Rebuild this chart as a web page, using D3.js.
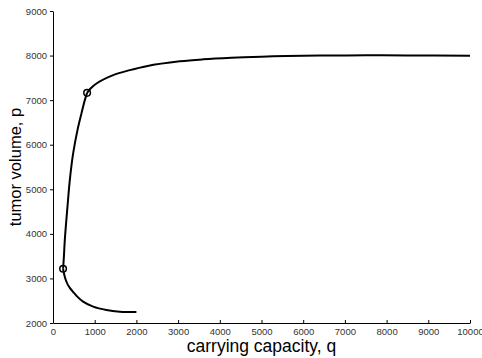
<!DOCTYPE html>
<html>
<head>
<meta charset="utf-8">
<script src="https://cdn.jsdelivr.net/npm/d3@7"></script>
<style>
  body { margin: 0; background: #fff; }
  text { font-family: "Liberation Sans", Arial, sans-serif; }
</style>
</head>
<body>
<svg id="chart" width="482" height="358"></svg>
<script>
// curve pieces: [q, p]
const lowerBranch = [
  [2000, 2245], [1602, 2255], [1283, 2291], [963, 2366], [723, 2478],
  [563, 2610], [480, 2700], [403, 2790], [360, 2850], [307, 2965],
  [270, 3080], [242, 3217]
];
const middleBranch = [
  [242, 3217], [262, 3500], [283, 3861], [347, 4608], [403, 5206],
  [483, 5805], [587, 6327], [683, 6703], [763, 7000], [818, 7164]
];
const upperBranch = [
  [818, 7164], [900, 7260], [1043, 7374], [1443, 7561], [1842, 7673],
  [2242, 7762], [3041, 7870], [3600, 7915], [4280, 7950], [5000, 7975],
  [5600, 7990], [6400, 8000], [7500, 8005], [8500, 8003], [10000, 7995]
];
const markedPoints = [[242, 3217], [818, 7164]];
const xTicks = [0, 1000, 2000, 3000, 4000, 5000, 6000, 7000, 8000, 9000, 10000];
const yTicks = [2000, 3000, 4000, 5000, 6000, 7000, 8000, 9000];

const svg = d3.select("#chart"),
  margin = { top: 11, right: 12, bottom: 35, left: 53 },
  width = +svg.attr("width") - margin.left - margin.right,
  height = +svg.attr("height") - margin.top - margin.bottom,
  g = svg.append("g").attr("transform", "translate(" + margin.left + "," + margin.top + ")");

const x = d3.scaleLinear().domain([0, 10000]).range([0, width]);
const y = d3.scaleLinear().domain([2000, 9000]).range([height, 0]);

// x axis, ticks point up into the plot
const xAxis = g.append("g")
  .attr("transform", "translate(0," + height + ")")
  .call(d3.axisBottom(x).tickValues(xTicks).tickSizeInner(-3).tickSizeOuter(0).tickPadding(5).tickFormat(d3.format("d")));
xAxis.selectAll("text").attr("font-size", 9.5).attr("fill", "#333").attr("dy", "0.71em");

const yAxis = g.append("g")
  .call(d3.axisLeft(y).tickValues(yTicks).tickSizeInner(3).tickSizeOuter(0).tickPadding(3).tickFormat(d3.format("d")));
yAxis.selectAll("text").attr("font-size", 9.5).attr("fill", "#333");

svg.selectAll(".domain").attr("stroke", "#000").attr("stroke-width", 1);
svg.selectAll(".tick line").attr("stroke", "#000");

const line = d3.line()
  .x(function (d) { return x(d[0]); })
  .y(function (d) { return y(d[1]); })
  .curve(d3.curveCatmullRom);

[lowerBranch, middleBranch, upperBranch].forEach(function (branch) {
  g.append("path")
    .datum(branch)
    .attr("fill", "none")
    .attr("stroke", "#000")
    .attr("stroke-width", 2)
    .attr("d", line);
});

g.selectAll("circle.mark")
  .data(markedPoints)
  .enter()
  .append("circle")
  .attr("class", "mark")
  .attr("cx", function (d) { return x(d[0]); })
  .attr("cy", function (d) { return y(d[1]); })
  .attr("r", 3.3)
  .attr("fill", "none")
  .attr("stroke", "#000")
  .attr("stroke-width", 1.5);

svg.append("text")
  .attr("x", margin.left + width / 2)
  .attr("y", 352)
  .attr("text-anchor", "middle")
  .attr("font-size", 17.5)
  .text("carrying capacity, q");

svg.append("text")
  .attr("transform", "translate(21," + (margin.top + height / 2) + ") rotate(-90)")
  .attr("text-anchor", "middle")
  .attr("font-size", 16.5)
  .text("tumor volume, p");
</script>
</body>
</html>
